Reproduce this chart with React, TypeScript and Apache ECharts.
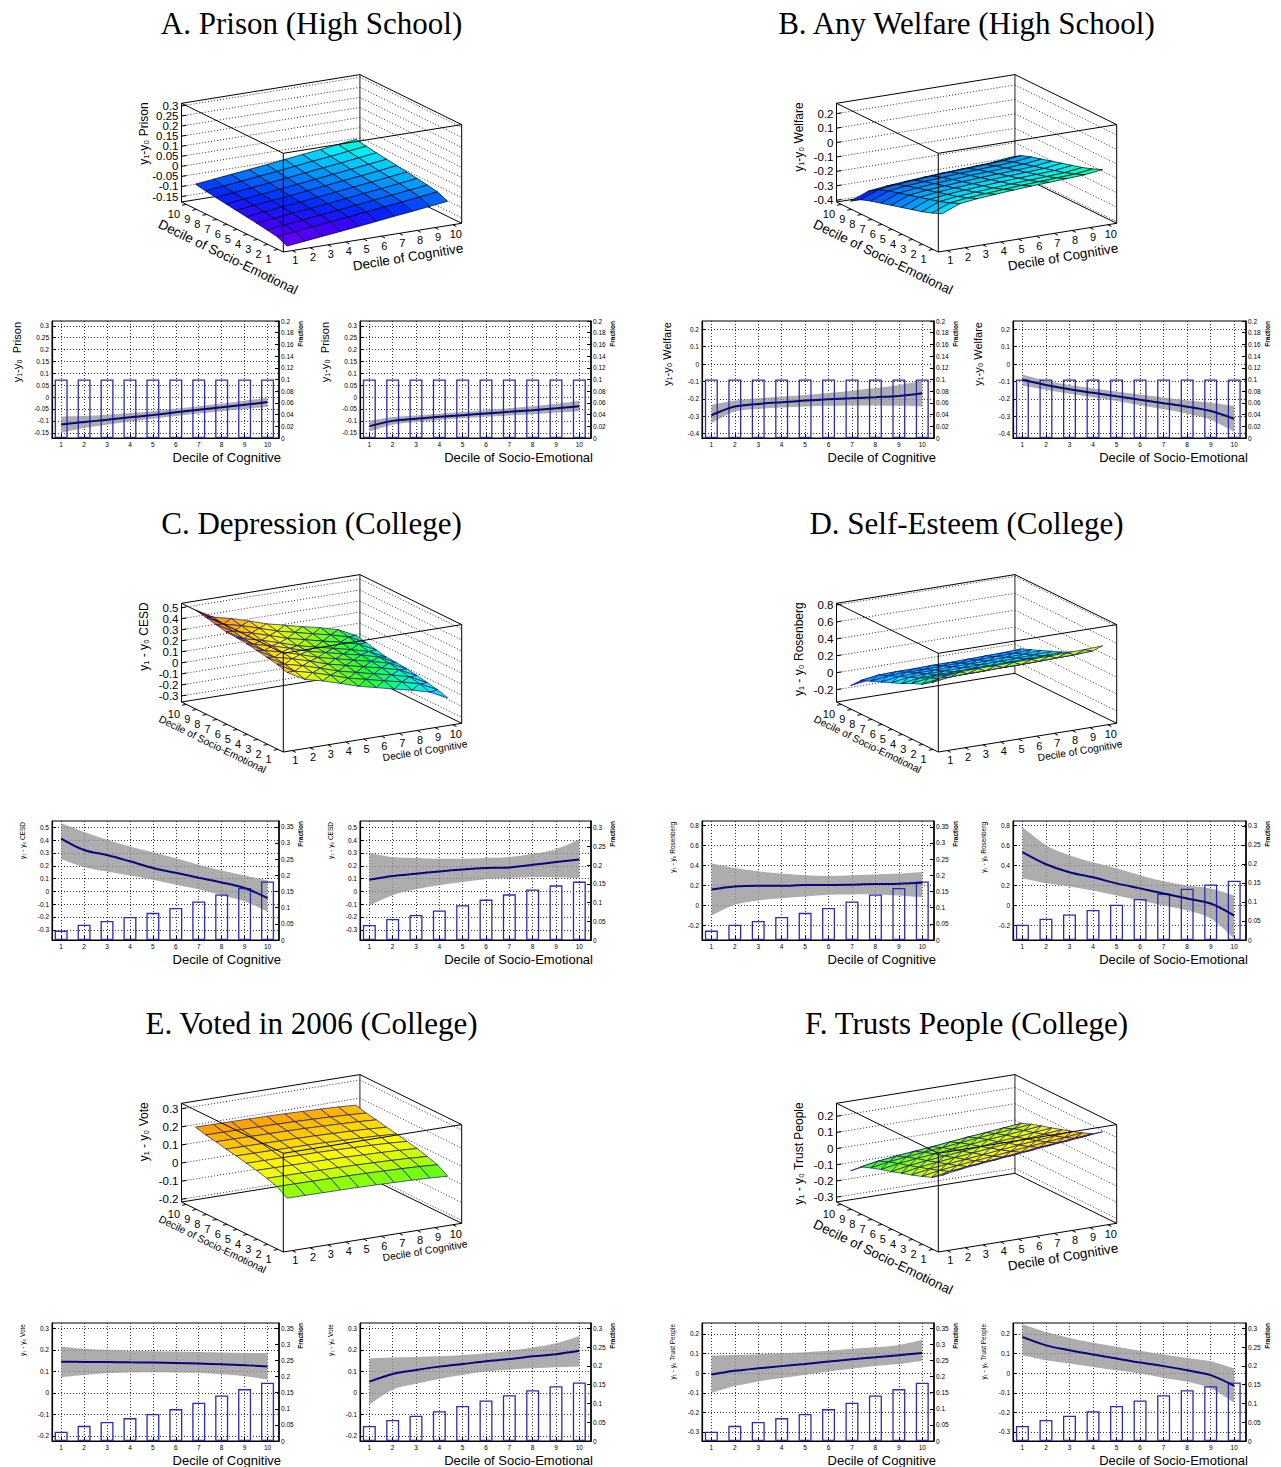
import { useEffect, useRef } from 'react';
import * as echarts from 'echarts';

const SANS = '"Liberation Sans", Arial, Helvetica, sans-serif';
const SERIF = '"Liberation Serif", "Times New Roman", serif';

const DECILES = [1, 2, 3, 4, 5, 6, 7, 8, 9, 10];

// share of the sample in each decile
const FRAC_HS = [0.1, 0.1, 0.1, 0.1, 0.1, 0.1, 0.1, 0.1, 0.1, 0.1];
const FRAC_COG_COLLEGE = [0.029, 0.047, 0.059, 0.071, 0.084, 0.099, 0.119, 0.141, 0.161, 0.181];
const FRAC_SOC_COLLEGE = [0.04, 0.056, 0.067, 0.079, 0.093, 0.108, 0.122, 0.135, 0.146, 0.156];

// tick labels
const TICKS_PRISON = [-0.15, -0.1, -0.05, 0, 0.05, 0.1, 0.15, 0.2, 0.25, 0.3];
const TICKS_WELFARE = [-0.4, -0.3, -0.2, -0.1, 0, 0.1, 0.2];
const TICKS_CESD = [-0.3, -0.2, -0.1, 0, 0.1, 0.2, 0.3, 0.4, 0.5];
const TICKS_ROSEN = [-0.2, 0, 0.2, 0.4, 0.6, 0.8];
const TICKS_VOTE = [-0.2, -0.1, 0, 0.1, 0.2, 0.3];
const TICKS_TRUST = [-0.3, -0.2, -0.1, 0, 0.1, 0.2];
const FRAC_TICKS_020 = [0, 0.02, 0.04, 0.06, 0.08, 0.1, 0.12, 0.14, 0.16, 0.18, 0.2];
const FRAC_TICKS_035 = [0, 0.05, 0.1, 0.15, 0.2, 0.25, 0.3, 0.35];
const FRAC_TICKS_030 = [0, 0.05, 0.1, 0.15, 0.2, 0.25, 0.3];

// A. Prison (High School)
const PRISON_COG = [-0.115, -0.105, -0.095, -0.085, -0.075, -0.064, -0.053, -0.043, -0.032, -0.021];
const PRISON_COG_LO = [-0.15, -0.13, -0.116, -0.103, -0.091, -0.08, -0.069, -0.059, -0.05, -0.041];
const PRISON_COG_HI = [-0.082, -0.08, -0.074, -0.067, -0.059, -0.049, -0.038, -0.027, -0.015, -0.003];
const PRISON_SOC = [-0.122, -0.1, -0.091, -0.083, -0.076, -0.069, -0.062, -0.055, -0.047, -0.038];
const PRISON_SOC_LO = [-0.145, -0.116, -0.105, -0.096, -0.089, -0.083, -0.077, -0.072, -0.066, -0.06];
const PRISON_SOC_HI = [-0.1, -0.084, -0.077, -0.07, -0.063, -0.055, -0.047, -0.038, -0.028, -0.015];
// rows: socio-emotional decile 1..10, columns: cognitive decile 1..10
const PRISON_SURF = [
  [-0.167, -0.157, -0.147, -0.137, -0.127, -0.116, -0.105, -0.095, -0.084, -0.073],
  [-0.145, -0.135, -0.125, -0.115, -0.105, -0.094, -0.083, -0.073, -0.062, -0.051],
  [-0.136, -0.126, -0.116, -0.106, -0.096, -0.085, -0.074, -0.064, -0.053, -0.042],
  [-0.128, -0.118, -0.108, -0.098, -0.088, -0.077, -0.066, -0.056, -0.045, -0.034],
  [-0.121, -0.111, -0.101, -0.091, -0.081, -0.07, -0.059, -0.049, -0.038, -0.027],
  [-0.114, -0.104, -0.094, -0.084, -0.074, -0.063, -0.052, -0.042, -0.031, -0.02],
  [-0.107, -0.097, -0.087, -0.077, -0.067, -0.056, -0.045, -0.035, -0.024, -0.013],
  [-0.1, -0.09, -0.08, -0.07, -0.06, -0.049, -0.038, -0.028, -0.017, -0.006],
  [-0.092, -0.082, -0.072, -0.062, -0.052, -0.041, -0.03, -0.02, -0.009, 0.002],
  [-0.083, -0.073, -0.063, -0.053, -0.043, -0.032, -0.021, -0.011, 0.0, 0.011],
];

// B. Any Welfare (High School)
const WELFARE_COG = [-0.294, -0.244, -0.229, -0.219, -0.21, -0.202, -0.196, -0.19, -0.183, -0.167];
const WELFARE_COG_LO = [-0.34, -0.273, -0.258, -0.25, -0.244, -0.24, -0.238, -0.238, -0.24, -0.244];
const WELFARE_COG_HI = [-0.235, -0.21, -0.196, -0.187, -0.177, -0.166, -0.153, -0.138, -0.12, -0.096];
const WELFARE_SOC = [-0.09, -0.12, -0.145, -0.165, -0.185, -0.205, -0.225, -0.245, -0.27, -0.315];
const WELFARE_SOC_LO = [-0.125, -0.148, -0.17, -0.19, -0.212, -0.236, -0.26, -0.285, -0.32, -0.39];
const WELFARE_SOC_HI = [-0.06, -0.095, -0.12, -0.14, -0.158, -0.175, -0.192, -0.208, -0.222, -0.24];
const WELFARE_SURF = [
  [-0.174, -0.124, -0.109, -0.099, -0.09, -0.082, -0.076, -0.07, -0.063, -0.047],
  [-0.204, -0.154, -0.139, -0.129, -0.12, -0.112, -0.106, -0.1, -0.093, -0.077],
  [-0.229, -0.179, -0.164, -0.154, -0.145, -0.137, -0.131, -0.125, -0.118, -0.102],
  [-0.249, -0.199, -0.184, -0.174, -0.165, -0.157, -0.151, -0.145, -0.138, -0.122],
  [-0.269, -0.219, -0.204, -0.194, -0.185, -0.177, -0.171, -0.165, -0.158, -0.142],
  [-0.289, -0.239, -0.224, -0.214, -0.205, -0.197, -0.191, -0.185, -0.178, -0.162],
  [-0.309, -0.259, -0.244, -0.234, -0.225, -0.217, -0.211, -0.205, -0.198, -0.182],
  [-0.329, -0.279, -0.264, -0.254, -0.245, -0.237, -0.231, -0.225, -0.218, -0.202],
  [-0.354, -0.304, -0.289, -0.279, -0.27, -0.262, -0.256, -0.25, -0.243, -0.227],
  [-0.399, -0.349, -0.334, -0.324, -0.315, -0.307, -0.301, -0.295, -0.288, -0.272],
];

// C. Depression (College)
const CESD_COG = [0.413, 0.323, 0.284, 0.235, 0.183, 0.145, 0.106, 0.07, 0.026, -0.052];
const CESD_COG_LO = [0.253, 0.189, 0.155, 0.124, 0.09, 0.052, 0.016, -0.031, -0.078, -0.16];
const CESD_COG_HI = [0.532, 0.465, 0.403, 0.351, 0.305, 0.258, 0.209, 0.163, 0.124, 0.085];
const CESD_SOC = [0.091, 0.12, 0.138, 0.156, 0.171, 0.182, 0.187, 0.208, 0.229, 0.249];
const CESD_SOC_LO = [-0.11, -0.03, 0.016, 0.047, 0.073, 0.094, 0.104, 0.112, 0.109, 0.104];
const CESD_SOC_HI = [0.3, 0.268, 0.26, 0.255, 0.255, 0.26, 0.268, 0.294, 0.33, 0.405];
const CESD_SURF = [
  [0.331, 0.241, 0.202, 0.153, 0.101, 0.063, 0.024, -0.012, -0.056, -0.134],
  [0.36, 0.27, 0.231, 0.182, 0.13, 0.092, 0.053, 0.017, -0.027, -0.105],
  [0.378, 0.288, 0.249, 0.2, 0.148, 0.11, 0.071, 0.035, -0.009, -0.087],
  [0.396, 0.306, 0.267, 0.218, 0.166, 0.128, 0.089, 0.053, 0.009, -0.069],
  [0.411, 0.321, 0.282, 0.233, 0.181, 0.143, 0.104, 0.068, 0.024, -0.054],
  [0.422, 0.332, 0.293, 0.244, 0.192, 0.154, 0.115, 0.079, 0.035, -0.043],
  [0.427, 0.337, 0.298, 0.249, 0.197, 0.159, 0.12, 0.084, 0.04, -0.038],
  [0.448, 0.358, 0.319, 0.27, 0.218, 0.18, 0.141, 0.105, 0.061, -0.017],
  [0.469, 0.379, 0.34, 0.291, 0.239, 0.201, 0.162, 0.126, 0.082, 0.004],
  [0.489, 0.399, 0.36, 0.311, 0.259, 0.221, 0.182, 0.146, 0.102, 0.024],
];

// D. Self-Esteem (College)
const ROSEN_COG = [0.16, 0.19, 0.197, 0.197, 0.203, 0.203, 0.207, 0.213, 0.217, 0.227];
const ROSEN_COG_LO = [-0.1, 0.007, 0.05, 0.073, 0.09, 0.107, 0.11, 0.11, 0.1, 0.083];
const ROSEN_COG_HI = [0.417, 0.373, 0.34, 0.317, 0.3, 0.293, 0.3, 0.307, 0.317, 0.333];
const ROSEN_SOC = [0.53, 0.41, 0.33, 0.28, 0.22, 0.17, 0.12, 0.07, 0.02, -0.1];
const ROSEN_SOC_LO = [0.27, 0.22, 0.19, 0.15, 0.1, 0.05, 0.0, -0.05, -0.13, -0.33];
const ROSEN_SOC_HI = [0.78, 0.6, 0.5, 0.43, 0.37, 0.3, 0.24, 0.2, 0.17, 0.1];
const ROSEN_SURF = [
  [0.49, 0.52, 0.527, 0.527, 0.533, 0.533, 0.537, 0.543, 0.547, 0.557],
  [0.37, 0.4, 0.407, 0.407, 0.413, 0.413, 0.417, 0.423, 0.427, 0.437],
  [0.29, 0.32, 0.327, 0.327, 0.333, 0.333, 0.337, 0.343, 0.347, 0.357],
  [0.24, 0.27, 0.277, 0.277, 0.283, 0.283, 0.287, 0.293, 0.297, 0.307],
  [0.18, 0.21, 0.217, 0.217, 0.223, 0.223, 0.227, 0.233, 0.237, 0.247],
  [0.13, 0.16, 0.167, 0.167, 0.173, 0.173, 0.177, 0.183, 0.187, 0.197],
  [0.08, 0.11, 0.117, 0.117, 0.123, 0.123, 0.127, 0.133, 0.137, 0.147],
  [0.03, 0.06, 0.067, 0.067, 0.073, 0.073, 0.077, 0.083, 0.087, 0.097],
  [-0.02, 0.01, 0.017, 0.017, 0.023, 0.023, 0.027, 0.033, 0.037, 0.047],
  [-0.14, -0.11, -0.103, -0.103, -0.097, -0.097, -0.093, -0.087, -0.083, -0.073],
];

// E. Voted in 2006 (College)
const VOTE_COG = [0.145, 0.144, 0.143, 0.142, 0.141, 0.139, 0.136, 0.133, 0.129, 0.123];
const VOTE_COG_LO = [0.073, 0.083, 0.091, 0.095, 0.096, 0.095, 0.093, 0.086, 0.077, 0.062];
const VOTE_COG_HI = [0.216, 0.205, 0.2, 0.196, 0.194, 0.192, 0.19, 0.188, 0.186, 0.185];
const VOTE_SOC = [0.052, 0.088, 0.106, 0.122, 0.134, 0.147, 0.157, 0.17, 0.18, 0.196];
const VOTE_SOC_LO = [-0.054, 0.015, 0.042, 0.065, 0.083, 0.099, 0.108, 0.114, 0.119, 0.123];
const VOTE_SOC_HI = [0.16, 0.164, 0.167, 0.17, 0.176, 0.184, 0.196, 0.211, 0.231, 0.265];
const VOTE_SURF = [
  [0.061, 0.06, 0.059, 0.058, 0.057, 0.055, 0.052, 0.049, 0.045, 0.039],
  [0.097, 0.096, 0.095, 0.094, 0.093, 0.091, 0.088, 0.085, 0.081, 0.075],
  [0.115, 0.114, 0.113, 0.112, 0.111, 0.109, 0.106, 0.103, 0.099, 0.093],
  [0.131, 0.13, 0.129, 0.128, 0.127, 0.125, 0.122, 0.119, 0.115, 0.109],
  [0.143, 0.142, 0.141, 0.14, 0.139, 0.137, 0.134, 0.131, 0.127, 0.121],
  [0.156, 0.155, 0.154, 0.153, 0.152, 0.15, 0.147, 0.144, 0.14, 0.134],
  [0.166, 0.165, 0.164, 0.163, 0.162, 0.16, 0.157, 0.154, 0.15, 0.144],
  [0.179, 0.178, 0.177, 0.176, 0.175, 0.173, 0.17, 0.167, 0.163, 0.157],
  [0.189, 0.188, 0.187, 0.186, 0.185, 0.183, 0.18, 0.177, 0.173, 0.167],
  [0.205, 0.204, 0.203, 0.202, 0.201, 0.199, 0.196, 0.193, 0.189, 0.183],
];

// F. Trusts People (College)
const TRUST_COG = [-0.007, 0.012, 0.025, 0.036, 0.047, 0.059, 0.071, 0.081, 0.092, 0.103];
const TRUST_COG_LO = [-0.1, -0.066, -0.042, -0.025, -0.008, 0.008, 0.022, 0.036, 0.047, 0.064];
const TRUST_COG_HI = [0.09, 0.093, 0.097, 0.102, 0.107, 0.114, 0.124, 0.132, 0.144, 0.171];
const TRUST_SOC = [0.185, 0.142, 0.117, 0.095, 0.075, 0.054, 0.036, 0.015, -0.01, -0.065];
const TRUST_SOC_LO = [0.092, 0.066, 0.049, 0.032, 0.015, -0.002, -0.024, -0.044, -0.078, -0.15];
const TRUST_SOC_HI = [0.25, 0.21, 0.18, 0.155, 0.135, 0.114, 0.095, 0.078, 0.061, 0.024];
const TRUST_SURF = [
  [0.119, 0.138, 0.151, 0.162, 0.173, 0.185, 0.197, 0.207, 0.218, 0.229],
  [0.076, 0.095, 0.108, 0.119, 0.13, 0.142, 0.154, 0.164, 0.175, 0.186],
  [0.051, 0.07, 0.083, 0.094, 0.105, 0.117, 0.129, 0.139, 0.15, 0.161],
  [0.029, 0.048, 0.061, 0.072, 0.083, 0.095, 0.107, 0.117, 0.128, 0.139],
  [0.009, 0.028, 0.041, 0.052, 0.063, 0.075, 0.087, 0.097, 0.108, 0.119],
  [-0.012, 0.007, 0.02, 0.031, 0.042, 0.054, 0.066, 0.076, 0.087, 0.098],
  [-0.03, -0.011, 0.002, 0.013, 0.024, 0.036, 0.048, 0.058, 0.069, 0.08],
  [-0.051, -0.032, -0.019, -0.008, 0.003, 0.015, 0.027, 0.037, 0.048, 0.059],
  [-0.076, -0.057, -0.044, -0.033, -0.022, -0.01, 0.002, 0.012, 0.023, 0.034],
  [-0.131, -0.112, -0.099, -0.088, -0.077, -0.065, -0.053, -0.043, -0.032, -0.021],
];

const PANELS = [
  {
    title: 'A. Prison (High School)', zName: 'y\u2081-y\u2080 Prison', yName: 'y\u2081-y\u2080  Prison',
    surf: PRISON_SURF, zRange: [-0.177, 0.313], ticks: TICKS_PRISON, pal: [-0.175, 0.239], tri: false, big: true,
    yRange: [-0.172, 0.32],
    cog: { mid: PRISON_COG, lo: PRISON_COG_LO, hi: PRISON_COG_HI, frac: FRAC_HS, fMax: 0.2, fTicks: FRAC_TICKS_020 },
    soc: { mid: PRISON_SOC, lo: PRISON_SOC_LO, hi: PRISON_SOC_HI, frac: FRAC_HS, fMax: 0.2, fTicks: FRAC_TICKS_020 },
  },
  {
    title: 'B. Any Welfare (High School)', zName: 'y\u2081-y\u2080 Welfare', yName: 'y\u2081-y\u2080 Welfare',
    surf: WELFARE_SURF, zRange: [-0.412, 0.272], ticks: TICKS_WELFARE, pal: [-0.55, 0.45], tri: false, big: true,
    yRange: [-0.425, 0.248],
    cog: { mid: WELFARE_COG, lo: WELFARE_COG_LO, hi: WELFARE_COG_HI, frac: FRAC_HS, fMax: 0.2, fTicks: FRAC_TICKS_020 },
    soc: { mid: WELFARE_SOC, lo: WELFARE_SOC_LO, hi: WELFARE_SOC_HI, frac: FRAC_HS, fMax: 0.2, fTicks: FRAC_TICKS_020 },
  },
  {
    title: 'C. Depression (College)', zName: 'y\u2081 - y\u2080 CESD', yName: 'y\u2081 - y\u2080 CESD',
    surf: CESD_SURF, zRange: [-0.355, 0.54], ticks: TICKS_CESD, pal: [-0.5, 0.55], tri: true, big: false,
    yRange: [-0.38, 0.55],
    cog: { mid: CESD_COG, lo: CESD_COG_LO, hi: CESD_COG_HI, frac: FRAC_COG_COLLEGE, fMax: 0.368, fTicks: FRAC_TICKS_035 },
    soc: { mid: CESD_SOC, lo: CESD_SOC_LO, hi: CESD_SOC_HI, frac: FRAC_SOC_COLLEGE, fMax: 0.318, fTicks: FRAC_TICKS_030 },
  },
  {
    title: 'D. Self-Esteem (College)', zName: 'y\u2081 - y\u2080 Rosenberg', yName: 'y\u2081 - y\u2080 Rosenberg',
    surf: ROSEN_SURF, zRange: [-0.346, 0.82], ticks: TICKS_ROSEN, pal: [-0.405, 0.922], tri: true, big: false,
    yRange: [-0.343, 0.84],
    cog: { mid: ROSEN_COG, lo: ROSEN_COG_LO, hi: ROSEN_COG_HI, frac: FRAC_COG_COLLEGE, fMax: 0.368, fTicks: FRAC_TICKS_035 },
    soc: { mid: ROSEN_SOC, lo: ROSEN_SOC_LO, hi: ROSEN_SOC_HI, frac: FRAC_SOC_COLLEGE, fMax: 0.313, fTicks: FRAC_TICKS_030 },
  },
  {
    title: 'E. Voted in 2006 (College)', zName: 'y\u2081 - y\u2080 Vote', yName: 'y\u2081 - y\u2080 Vote',
    surf: VOTE_SURF, zRange: [-0.215, 0.33], ticks: TICKS_VOTE, pal: [-0.296, 0.293], tri: false, big: false,
    yRange: [-0.224, 0.325],
    cog: { mid: VOTE_COG, lo: VOTE_COG_LO, hi: VOTE_COG_HI, frac: FRAC_COG_COLLEGE, fMax: 0.366, fTicks: FRAC_TICKS_035 },
    soc: { mid: VOTE_SOC, lo: VOTE_SOC_LO, hi: VOTE_SOC_HI, frac: FRAC_SOC_COLLEGE, fMax: 0.314, fTicks: FRAC_TICKS_030 },
  },
  {
    title: 'F. Trusts People (College)', zName: 'y\u2081 - y\u2080 Trust People', yName: 'y\u2081 - y\u2080 Trust People',
    surf: TRUST_SURF, zRange: [-0.33, 0.28], ticks: TICKS_TRUST, pal: [-0.644, 0.385], tri: true, big: true,
    yRange: [-0.346, 0.256],
    cog: { mid: TRUST_COG, lo: TRUST_COG_LO, hi: TRUST_COG_HI, frac: FRAC_COG_COLLEGE, fMax: 0.366, fTicks: FRAC_TICKS_035 },
    soc: { mid: TRUST_SOC, lo: TRUST_SOC_LO, hi: TRUST_SOC_HI, frac: FRAC_SOC_COLLEGE, fMax: 0.314, fTicks: FRAC_TICKS_030 },
  },
];

// layout of the small 2D plots
const PLOT_L = [[52, 360], [702, 1013]];
const PLOT_R = [[279, 591], [934, 1246]];
const PLOT_T = [321, 821, 1323];
const PLOT_B = [438, 940, 1441];

// 3D box projection (screen vectors)
const FRONT = [283.3, 252];
const VC = [178.4, -28.7];
const VS = [-101.8, -50];
const BOX_H = 98.7;

const RAINBOW: [number, number[]][] = [
  [0.0, [127, 0, 255]],
  [0.12, [60, 0, 255]],
  [0.2, [0, 40, 255]],
  [0.3, [0, 140, 255]],
  [0.4, [0, 235, 255]],
  [0.48, [0, 255, 170]],
  [0.56, [40, 255, 40]],
  [0.65, [170, 255, 0]],
  [0.72, [255, 255, 0]],
  [0.85, [255, 150, 0]],
  [1.0, [255, 0, 0]],
];

function palette(t: number) {
  const v = Math.max(0, Math.min(1, t));
  for (let i = 1; i < RAINBOW.length; i++) {
    const [t1, c1] = RAINBOW[i];
    const [t0, c0] = RAINBOW[i - 1];
    if (v <= t1) {
      const f = (v - t0) / (t1 - t0);
      const c = c0.map((x, k) => Math.round(x + (c1[k] - x) * f));
      return `rgb(${c[0]},${c[1]},${c[2]})`;
    }
  }
  return 'rgb(255,0,0)';
}

const fmt = (v: number) => String(Math.round(v * 1000) / 1000);

function txt(x: number, y: number, text: string, font: string, opts: any = {}) {
  const align = opts.align || 'center';
  const va = opts.va || 'middle';
  return {
    type: 'text',
    x,
    y,
    rotation: opts.rot || 0,
    silent: true,
    z: 10,
    style: {
      text,
      x: 0,
      y: 0,
      font,
      fill: '#000',
      align,
      verticalAlign: va,
      textAlign: align,
      textVerticalAlign: va,
    },
  };
}

function smoothSeg(pts: number[][]) {
  let d = '';
  for (let i = 0; i < pts.length - 1; i++) {
    const p0 = pts[Math.max(i - 1, 0)];
    const p1 = pts[i];
    const p2 = pts[i + 1];
    const p3 = pts[Math.min(i + 2, pts.length - 1)];
    const a = [p1[0] + (p2[0] - p0[0]) / 6, p1[1] + (p2[1] - p0[1]) / 6];
    const b = [p2[0] - (p3[0] - p1[0]) / 6, p2[1] - (p3[1] - p1[1]) / 6];
    d += ` C${a[0]},${a[1]} ${b[0]},${b[1]} ${p2[0]},${p2[1]}`;
  }
  return d;
}

function build3D(p: any, ox: number, oy: number) {
  const [z0, z1] = p.zRange;
  const fx = FRONT[0] + ox;
  const fy = FRONT[1] + oy;
  const P = (c: number, s: number, z: number) => {
    const u = (c - 0.5) / 10;
    const v = (s - 0.5) / 10;
    const w = (z - z0) / (z1 - z0);
    return [fx + u * VC[0] + v * VS[0], fy + u * VC[1] + v * VS[1] - w * BOX_H];
  };
  const ln = (a: number[], b: number[], style: any) => ({
    type: 'line',
    silent: true,
    shape: { x1: a[0], y1: a[1], x2: b[0], y2: b[1] },
    style,
  });
  const solid = { stroke: '#000', lineWidth: 1 };
  const dotted = { stroke: '#000', lineWidth: 0.8, lineDash: [1, 2] };
  const lo = 0.5;
  const hi = 10.5;
  const kids: any[] = [];

  // back walls
  p.ticks.forEach((t: number) => {
    kids.push(ln(P(lo, hi, t), P(hi, hi, t), dotted));
    kids.push(ln(P(hi, hi, t), P(hi, lo, t), dotted));
  });
  kids.push(ln(P(hi, hi, z0), P(hi, hi, z1), { stroke: '#555', lineWidth: 1.3 }));
  kids.push(ln(P(lo, hi, z1), P(hi, hi, z1), solid));
  kids.push(ln(P(hi, hi, z1), P(hi, lo, z1), solid));
  kids.push(ln(P(lo, hi, z0), P(hi, hi, z0), solid));
  kids.push(ln(P(hi, hi, z0), P(hi, lo, z0), solid));

  // surface, far cells first
  const cells: number[][] = [];
  for (let i = 0; i < 9; i++) for (let j = 0; j < 9; j++) cells.push([i, j]);
  cells.sort((a, b) => b[0] + b[1] - (a[0] + a[1]));
  const meshStroke = p.big && !p.tri ? '#000' : '#16167a';
  const face = (pts: number[][], zs: number[]) => {
    const m = zs.reduce((acc, x) => acc + x, 0) / zs.length;
    kids.push({
      type: 'polygon',
      silent: true,
      shape: { points: pts },
      style: {
        fill: palette((m - p.pal[0]) / (p.pal[1] - p.pal[0])),
        stroke: meshStroke,
        lineWidth: 0.7,
        lineJoin: 'round',
      },
    });
  };
  cells.forEach(([i, j]) => {
    const zA = p.surf[i][j];
    const zB = p.surf[i][j + 1];
    const zC = p.surf[i + 1][j + 1];
    const zD = p.surf[i + 1][j];
    const A = P(DECILES[j], DECILES[i], zA);
    const B = P(DECILES[j + 1], DECILES[i], zB);
    const C = P(DECILES[j + 1], DECILES[i + 1], zC);
    const D = P(DECILES[j], DECILES[i + 1], zD);
    if (p.tri) {
      face([A, C, D], [zA, zC, zD]);
      face([A, B, C], [zA, zB, zC]);
    } else {
      face([A, B, C, D], [zA, zB, zC, zD]);
    }
  });

  // front edges
  kids.push(ln(P(lo, hi, z0), P(lo, hi, z1), solid));
  kids.push(ln(P(hi, lo, z0), P(hi, lo, z1), solid));
  kids.push(ln(P(lo, lo, z0), P(lo, lo, z1), solid));
  kids.push(ln(P(lo, hi, z1), P(lo, lo, z1), solid));
  kids.push(ln(P(lo, lo, z1), P(hi, lo, z1), solid));
  kids.push(ln(P(lo, hi, z0), P(lo, lo, z0), solid));
  kids.push(ln(P(lo, lo, z0), P(hi, lo, z0), solid));

  const labFont = `11px ${SANS}`;
  // z axis
  p.ticks.forEach((t: number) => {
    const q = P(lo, hi, t);
    kids.push(ln(q, [q[0] + 5, q[1] - 0.8], solid));
    kids.push(txt(q[0] - 3, q[1], fmt(t), `11.5px ${SANS}`, { align: 'right' }));
  });
  // socio-emotional axis
  DECILES.forEach((s) => {
    const q = P(lo, s, z0);
    kids.push(ln(q, [q[0] - 4.5, q[1] + 0.7], solid));
    kids.push(txt(q[0] - 6.5, q[1] + 9, String(s), labFont, { align: 'right' }));
  });
  // cognitive axis
  DECILES.forEach((c) => {
    const q = P(c, lo, z0);
    kids.push(ln(q, [q[0] + 3.6, q[1] + 1.8], solid));
    kids.push(txt(q[0] + 3, q[1] + 9.5, String(c), labFont));
  });
  // axis titles
  const top = P(lo, hi, z1);
  kids.push(txt(top[0] - 38, top[1] - 1, p.zName, `12px ${SANS}`, { align: 'right', rot: Math.PI / 2 }));
  const socRot = -Math.atan2(-VS[1], -VS[0]);
  const cogRot = Math.atan2(-VC[1], VC[0]) + 0.006;
  if (p.big) {
    kids.push(txt(fx - 55.3, fy + 5, 'Decile of Socio-Emotional', `13.4px ${SANS}`, { rot: socRot }));
    kids.push(txt(fx + 124.7, fy + 5, 'Decile of Cognitive', `13.4px ${SANS}`, { rot: cogRot }));
  } else {
    kids.push(txt(fx - 70.8, fy - 7.7, 'Decile of Socio-Emotional', `10.3px ${SANS}`, { rot: socRot }));
    kids.push(txt(fx + 141.7, fy - 1.2, 'Decile of Cognitive', `10.3px ${SANS}`, { rot: cogRot }));
  }
  return kids;
}

function buildOption() {
  const grids: any[] = [];
  const xAxes: any[] = [];
  const yAxes: any[] = [];
  const series: any[] = [];
  const graphics: any[] = [];
  const dotted = { color: '#000', width: 0.8, type: [1, 2] };
  const tickFont = { fontSize: 6.5, color: '#000', fontFamily: SANS };

  PANELS.forEach((p, pi) => {
    const col = pi % 2;
    const row = Math.floor(pi / 2);
    const ox = col * 655;
    const oy = row * 500;
    graphics.push(txt(311.5 + ox, 23 + oy, p.title, `31px ${SERIF}`));

    const kids = build3D(p, ox, oy);
    series.push({
      type: 'custom',
      coordinateSystem: 'none',
      silent: true,
      data: [[0]],
      renderItem: () => ({ type: 'group', children: kids }),
      z: 5,
    });

    [p.cog, p.soc].forEach((m, k) => {
      const gi = grids.length;
      const left = PLOT_L[col][k];
      const right = PLOT_R[col][k];
      const top = PLOT_T[row];
      const bottom = PLOT_B[row];
      const small = row > 0;
      grids.push({
        left,
        top,
        width: right - left,
        height: bottom - top,
        show: true,
        borderColor: '#000',
        borderWidth: 1,
        backgroundColor: 'rgba(0,0,0,0)',
        containLabel: false,
        outerBoundsMode: 'none',
      });
      xAxes.push({
        type: 'value',
        gridIndex: gi,
        min: 0.6,
        max: 10.5,
        axisLine: { show: true, onZero: false, lineStyle: { color: '#000', width: 1.2 } },
        axisTick: { show: true, inside: true, length: 4, customValues: DECILES, lineStyle: { color: '#000' } },
        axisLabel: { show: true, customValues: DECILES, margin: 3, ...tickFont },
        splitLine: { show: true, lineStyle: dotted },
      });
      yAxes.push({
        type: 'value',
        gridIndex: gi,
        position: 'left',
        min: p.yRange[0],
        max: p.yRange[1],
        axisLine: { show: true, onZero: false, lineStyle: { color: '#000', width: 1.2 } },
        axisTick: { show: true, inside: true, length: 4, customValues: p.ticks, lineStyle: { color: '#000' } },
        axisLabel: { show: true, customValues: p.ticks, formatter: fmt, margin: 3, ...tickFont },
        splitLine: { show: true, lineStyle: dotted },
      });
      yAxes.push({
        type: 'value',
        gridIndex: gi,
        position: 'right',
        min: 0,
        max: m.fMax,
        axisLine: { show: true, onZero: false, lineStyle: { color: '#000', width: 1.5 } },
        axisTick: { show: true, inside: true, length: 4, customValues: m.fTicks, lineStyle: { color: '#000' } },
        axisLabel: { show: true, customValues: m.fTicks, formatter: fmt, margin: 2, ...tickFont },
        splitLine: { show: false },
      });

      const lo = m.lo;
      const hi = m.hi;
      series.push({
        type: 'custom',
        xAxisIndex: gi,
        yAxisIndex: 2 * gi,
        silent: true,
        clip: true,
        data: DECILES.map((d, i) => [d, lo[i], hi[i]]),
        renderItem: (params: any, api: any) => {
          if (params.dataIndex !== 0) return null;
          const up = DECILES.map((d, i) => api.coord([d, hi[i]]));
          const dn = DECILES.map((d, i) => api.coord([d, lo[i]])).reverse();
          const pathData = `M${up[0][0]},${up[0][1]}${smoothSeg(up)} L${dn[0][0]},${dn[0][1]}${smoothSeg(dn)} Z`;
          return { type: 'path', shape: { pathData }, style: { fill: 'rgba(150,150,150,0.78)' } };
        },
        z: 2,
      });
      series.push({
        type: 'bar',
        xAxisIndex: gi,
        yAxisIndex: 2 * gi + 1,
        silent: true,
        barWidth: 13,
        data: DECILES.map((d, i) => [d, m.frac[i]]),
        itemStyle: { color: 'rgba(255,255,255,0)', borderColor: '#2b2bb0', borderWidth: 1.3 },
        z: 3,
      });
      series.push({
        type: 'line',
        xAxisIndex: gi,
        yAxisIndex: 2 * gi,
        silent: true,
        smooth: 0.33,
        symbol: 'none',
        data: DECILES.map((d, i) => [d, m.mid[i]]),
        lineStyle: { color: '#06067f', width: 2 },
        z: 4,
      });

      const yFont = small ? `6.5px ${SANS}` : `11px ${SANS}`;
      const yOff = small ? 30 : 35;
      graphics.push(txt(left - yOff, top + 1, p.yName, yFont, { align: 'right', rot: Math.PI / 2 }));
      graphics.push(txt(right + 21, top, 'Fraction', `bold 6.5px ${SANS}`, { align: 'right', rot: Math.PI / 2 }));
      graphics.push(
        txt(right + 2, bottom + 19, k === 0 ? 'Decile of Cognitive' : 'Decile of Socio-Emotional', `13px ${SANS}`, {
          align: 'right',
        }),
      );
    });
  });

  return {
    animation: false,
    backgroundColor: '#fff',
    grid: grids,
    xAxis: xAxes,
    yAxis: yAxes,
    series,
    graphic: graphics,
  };
}

export default function App() {
  const chartRef = useRef<HTMLDivElement>(null);

  useEffect(() => {
    if (!chartRef.current) return;
    const chart = echarts.init(chartRef.current, undefined, { renderer: 'svg' });
    chart.setOption(buildOption() as any);
    return () => {
      chart.dispose();
    };
  }, []);

  return (
    <div
      ref={chartRef}
      style={{ position: 'absolute', left: 0, top: 0, width: '1281px', height: '1467px', background: '#fff' }}
    />
  );
}
